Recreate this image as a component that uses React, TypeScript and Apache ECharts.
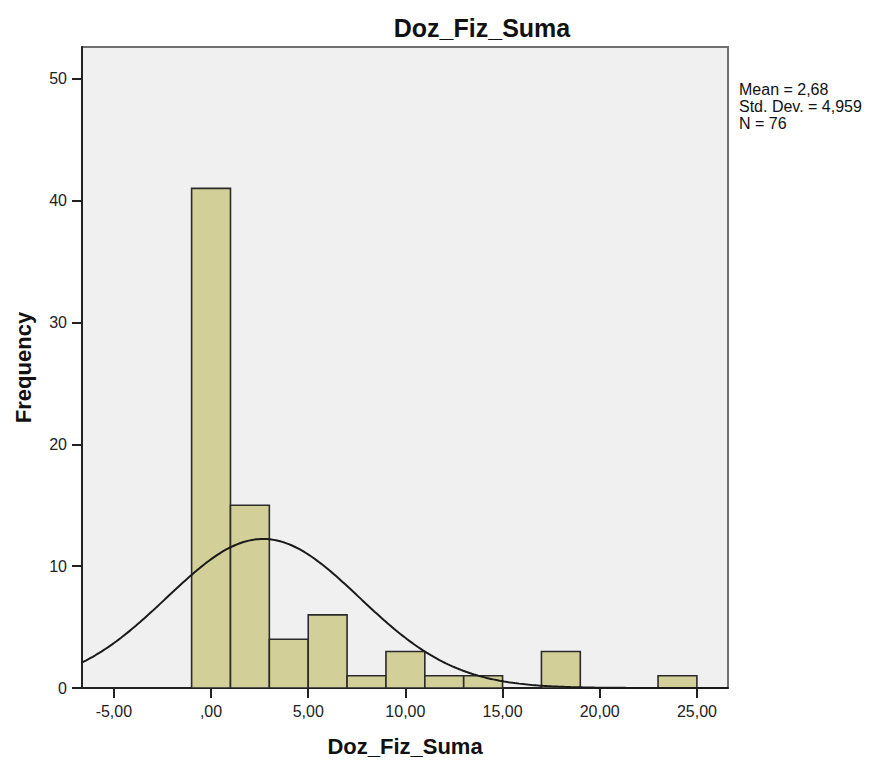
import React, { useEffect, useRef } from "react";
import * as echarts from "echarts";

// Histogram data (bins of width 2 starting at -1)
const binStarts = [-1, 1, 3, 5, 7, 9, 11, 13, 15, 17, 19, 21, 23];
const binWidth = 2;
const frequencies = [41, 15, 4, 6, 1, 3, 1, 1, 0, 3, 0, 0, 1];

// Axis ticks
const xTickValues = [-5, 0, 5, 10, 15, 20, 25];
const yTickValues = [0, 10, 20, 30, 40, 50];

// Summary statistics (fitted normal curve)
const statMean = 2.68;
const statStd = 4.959;
const statN = 76;
const statLines = ["Mean = 2,68", "Std. Dev. = 4,959", "N = 76"];

const titleText = "Doz_Fiz_Suma";
const xAxisTitle = "Doz_Fiz_Suma";
const yAxisTitle = "Frequency";

const xMin = -6.64;
const xMax = 26.6;
const yMax = 52.6;

const FONT = "'Liberation Sans', Arial, Helvetica, sans-serif";

function fmtX(v: number): string {
  if (v === 0) return ",00";
  return v.toFixed(2).replace(".", ",");
}

function normalCurve(): number[][] {
  const pts: number[][] = [];
  const scale = (statN * binWidth) / (statStd * Math.sqrt(2 * Math.PI));
  const steps = 300;
  for (let i = 0; i <= steps; i++) {
    const x = xMin + ((xMax - xMin) * i) / steps;
    const z = (x - statMean) / statStd;
    pts.push([x, scale * Math.exp(-0.5 * z * z)]);
  }
  return pts;
}

export default function App() {
  const ref = useRef<HTMLDivElement>(null);
  useEffect(() => {
    if (!ref.current) return;
    const chart = echarts.init(ref.current, undefined, { renderer: "svg" });
    const histData = binStarts.map((s, i) => [s, s + binWidth, frequencies[i]]);
    chart.setOption({
      animation: false,
      backgroundColor: "#ffffff",
      textStyle: { fontFamily: FONT },
      grid: {
        left: 82,
        top: 47,
        right: 146,
        bottom: 74,
        show: true,
        backgroundColor: "#f0f0f0",
        borderColor: "#707070",
        borderWidth: 2,
      },
      xAxis: {
        type: "value",
        min: xMin,
        max: xMax,
        name: xAxisTitle,
        nameLocation: "middle",
        nameGap: 47,
        nameTextStyle: { fontSize: 22, fontWeight: "bold", color: "#111", fontFamily: FONT },
        splitLine: { show: false },
        axisLine: { show: true, onZero: false, lineStyle: { color: "#222", width: 2 } },
        axisTick: { show: true, length: 10, lineStyle: { color: "#222", width: 2 }, customValues: xTickValues },
        axisLabel: {
          customValues: xTickValues,
          formatter: (v: number) => fmtX(v),
          fontSize: 16,
          color: "#222",
          margin: 15,
          fontFamily: FONT,
        },
      },
      yAxis: {
        type: "value",
        min: 0,
        max: yMax,
        name: yAxisTitle,
        nameLocation: "middle",
        nameGap: 48,
        nameTextStyle: { fontSize: 22, fontWeight: "bold", color: "#111", fontFamily: FONT },
        splitLine: { show: false },
        axisLine: { show: true, onZero: false, lineStyle: { color: "#222", width: 2 } },
        axisTick: { show: true, length: 10, lineStyle: { color: "#222", width: 2 }, customValues: yTickValues },
        axisLabel: {
          customValues: yTickValues,
          fontSize: 16,
          color: "#222",
          margin: 15,
          fontFamily: FONT,
        },
      },
      graphic: [
        {
          type: "text",
          x: 482,
          y: 28,
          style: {
            text: titleText,
            fontSize: 25,
            fontWeight: "bold",
            fill: "#111",
            fontFamily: FONT,
            textAlign: "center",
            textVerticalAlign: "middle",
          },
        },
        {
          type: "text",
          x: 739,
          y: 81,
          style: {
            text: statLines.join("\n"),
            fontSize: 16,
            lineHeight: 17,
            fill: "#111",
            fontFamily: FONT,
            textAlign: "left",
            textVerticalAlign: "top",
          },
        },
      ],
      series: [
        {
          type: "custom",
          data: histData,
          encode: { x: [0, 1], y: 2 },
          clip: true,
          z: 2,
          renderItem: (params: any, api: any) => {
            const lo = api.value(0);
            const hi = api.value(1);
            const f = api.value(2);
            if (!f) return null;
            const p1 = api.coord([lo, f]);
            const p2 = api.coord([hi, 0]);
            return {
              type: "rect",
              shape: { x: p1[0], y: p1[1], width: p2[0] - p1[0], height: p2[1] - p1[1] },
              style: { fill: "#d3cf98", stroke: "#2b2b2b", lineWidth: 1.6 },
            };
          },
        },
        {
          type: "line",
          data: normalCurve(),
          showSymbol: false,
          symbol: "none",
          smooth: false,
          clip: true,
          z: 3,
          lineStyle: { color: "#1a1a1a", width: 2 },
        },
      ],
    });
    return () => {
      chart.dispose();
    };
  }, []);
  return (
    <div
      ref={ref}
      style={{ position: "fixed", left: 0, top: 0, width: 874, height: 762 }}
    />
  );
}
